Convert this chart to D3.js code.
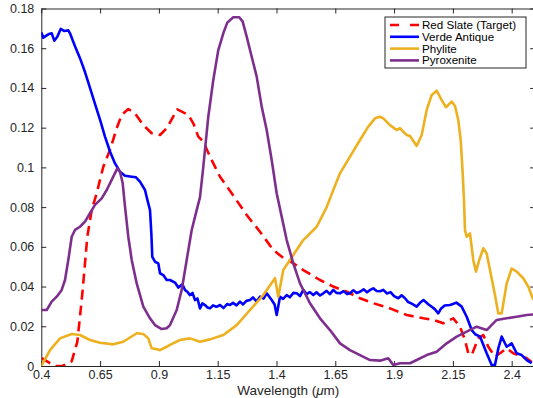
<!DOCTYPE html>
<html>
<head>
<meta charset="utf-8">
<script src="https://cdn.jsdelivr.net/npm/d3@7"></script>
<style>
  body { margin: 0; background: #fff; }
  svg { display: block; font-family: "Liberation Sans", Arial, sans-serif; }
</style>
</head>
<body>
<div id="chart"></div>
<script>
// wavelength (um) / reflectance pairs
var redX = [0.4017,0.437,0.46,0.49,0.5293,0.5531,0.5645,0.576,0.5858,0.5956,0.6143,0.6355,0.6636,0.6921,0.7206,0.7418,0.7699,0.7984,0.8337,0.8694,0.9047,0.9332,0.9685,0.9782,1.025,1.0463,1.0675,1.0888,1.1173,1.1598,1.2095,1.2733,1.3298,1.3864,1.4361,1.4502,1.5139,1.585,1.6415,1.6985,1.755,1.8116,1.8826,1.9536,2.0242,2.0667,2.1092,2.1378,2.1517,2.1802,2.2014,2.2155,2.2299,2.258,2.2793,2.3005,2.329,2.3502,2.3787,2.4068,2.4638,2.4918];
var redY = [0.004,0.0014,0.0,0.0,0.0024,0.0122,0.0248,0.0383,0.0517,0.0651,0.0785,0.087,0.1003,0.1088,0.1197,0.1264,0.1294,0.1272,0.1213,0.1172,0.1163,0.1197,0.1272,0.1292,0.1264,0.1222,0.1155,0.113,0.1054,0.0953,0.087,0.076,0.0676,0.0584,0.0537,0.0534,0.0483,0.0433,0.04,0.0374,0.0341,0.0316,0.029,0.0257,0.024,0.0232,0.0215,0.0232,0.024,0.0198,0.0131,0.0064,0.0055,0.0139,0.0156,0.0097,0.0047,0.0064,0.0089,0.0064,0.0039,0.0014];

var blueX = [0.4,0.4085,0.4298,0.4442,0.4553,0.468,0.4825,0.4965,0.5148,0.522,0.5433,0.5645,0.5858,0.607,0.6283,0.6496,0.6708,0.6921,0.7134,0.7346,0.7559,0.7844,0.8026,0.8196,0.8409,0.8524,0.8622,0.8679,0.8719,0.8834,0.8974,0.9047,0.9187,0.9332,0.9472,0.9685,0.9825,1.0,1.011,1.022,1.0322,1.043,1.0535,1.064,1.0748,1.085,1.096,1.105,1.1173,1.13,1.145,1.1598,1.175,1.19,1.2023,1.215,1.23,1.2448,1.258,1.272,1.2873,1.30,1.315,1.3298,1.345,1.3583,1.3796,1.392,1.4008,1.415,1.428,1.4434,1.457,1.472,1.4859,1.50,1.5139,1.528,1.542,1.5565,1.57,1.585,1.599,1.613,1.627,1.6415,1.655,1.67,1.685,1.70,1.7125,1.727,1.741,1.755,1.77,1.785,1.798,1.8116,1.826,1.84,1.8541,1.87,1.885,1.90,1.9179,1.932,1.9464,1.96,1.975,1.9961,2.01,2.025,2.0454,2.06,2.074,2.0879,2.10,2.115,2.1378,2.15,2.165,2.1874,2.2087,2.2299,2.245,2.2653,2.2937,2.315,2.329,2.3435,2.3575,2.3787,2.4,2.4212,2.4425,2.4638,2.485];
var blueY = [0.168,0.1653,0.167,0.1675,0.1638,0.1658,0.1697,0.1687,0.169,0.1675,0.161,0.155,0.148,0.14,0.132,0.124,0.1155,0.108,0.102,0.0978,0.0958,0.0953,0.095,0.0928,0.0886,0.083,0.0785,0.0668,0.055,0.0525,0.0517,0.0467,0.0458,0.0433,0.0433,0.042,0.0395,0.0412,0.0383,0.0372,0.0357,0.0368,0.0332,0.034,0.029,0.0315,0.0307,0.0296,0.029,0.0305,0.0298,0.0307,0.0292,0.0312,0.0307,0.0318,0.0305,0.0324,0.031,0.0328,0.0332,0.0345,0.0325,0.0349,0.034,0.0366,0.0332,0.031,0.0257,0.0349,0.0338,0.0357,0.0346,0.0368,0.0366,0.0352,0.0383,0.0362,0.0372,0.0357,0.0371,0.0355,0.0366,0.0378,0.0362,0.0383,0.0368,0.0366,0.0377,0.0362,0.0366,0.0381,0.0368,0.0374,0.0386,0.0371,0.0383,0.0391,0.0378,0.0376,0.0383,0.0365,0.0372,0.0352,0.0341,0.0356,0.0341,0.0322,0.0314,0.0299,0.0318,0.0332,0.0311,0.0298,0.0285,0.0265,0.029,0.0305,0.0307,0.0312,0.0319,0.0299,0.0248,0.0181,0.016,0.0148,0.0064,0.0005,0.0005,0.009,0.0148,0.0097,0.0114,0.0064,0.0055,0.003,0.0014];

var orangeX = [0.4,0.437,0.4795,0.5293,0.5645,0.607,0.6496,0.7061,0.7486,0.8056,0.8337,0.8549,0.8694,0.8906,0.9047,0.9332,0.9472,0.9897,1.0322,1.0748,1.1173,1.1738,1.2308,1.2873,1.3439,1.3936,1.4077,1.4289,1.4714,1.5139,1.5709,1.6134,1.6415,1.67,1.7125,1.755,1.7903,1.8188,1.8401,1.8541,1.8826,1.911,1.9251,1.9391,1.9536,1.9676,1.9961,2.0174,2.0386,2.0599,2.0811,2.1024,2.1207,2.1449,2.1589,2.1729,2.1832,2.1917,2.1972,2.2014,2.2087,2.2227,2.2367,2.2482,2.2623,2.2793,2.2937,2.3077,2.329,2.343,2.3575,2.3787,2.4,2.4212,2.4493,2.4706,2.4893,2.5];
var orangeY = [0.0,0.008,0.0139,0.0161,0.0156,0.0131,0.0117,0.0109,0.0122,0.0165,0.0161,0.0139,0.0089,0.0084,0.008,0.0097,0.0106,0.0131,0.0139,0.0122,0.0134,0.0156,0.0206,0.0282,0.0357,0.0442,0.0349,0.0483,0.0559,0.0634,0.0701,0.08,0.0886,0.097,0.1054,0.1138,0.1205,0.1247,0.1255,0.1247,0.1213,0.1188,0.1197,0.118,0.1163,0.1158,0.1108,0.1163,0.1289,0.1365,0.1386,0.1339,0.1303,0.1331,0.1309,0.1239,0.1138,0.097,0.0836,0.0685,0.0651,0.0668,0.0534,0.0475,0.0534,0.0593,0.0567,0.0483,0.0357,0.0265,0.0265,0.0416,0.0491,0.0475,0.0442,0.04,0.0341,0.033];

var purpleX = [0.4,0.423,0.4442,0.4655,0.4867,0.5008,0.5148,0.5293,0.5433,0.5645,0.5858,0.607,0.6283,0.6568,0.6781,0.6993,0.7231,0.7346,0.7461,0.7559,0.7699,0.7844,0.8056,0.8337,0.8622,0.8834,0.9119,0.9332,0.9472,0.9757,0.997,1.0182,1.0395,1.0607,1.0748,1.0888,1.11,1.1313,1.1526,1.1738,1.1908,1.2163,1.2418,1.2563,1.2733,1.2946,1.3158,1.3371,1.3583,1.3796,1.4008,1.4221,1.4434,1.4714,1.5,1.5424,1.585,1.6275,1.67,1.7125,1.755,1.7976,1.8401,1.8753,1.8966,1.9251,1.9676,1.9961,2.0386,2.0811,2.1237,2.1662,2.2087,2.2512,2.2937,2.3362,2.3787,2.4212,2.4638,2.5];
var purpleY = [0.0282,0.0282,0.0324,0.0349,0.0383,0.0433,0.0534,0.0651,0.0685,0.0701,0.0727,0.0769,0.0811,0.0844,0.0886,0.0937,0.0995,0.0978,0.092,0.0802,0.0651,0.0534,0.0416,0.0299,0.024,0.0206,0.0186,0.019,0.0206,0.0282,0.0383,0.0534,0.0685,0.0785,0.085,0.1003,0.1255,0.144,0.1591,0.1675,0.1729,0.1756,0.1756,0.1734,0.1658,0.1557,0.1457,0.1306,0.1188,0.1037,0.087,0.0752,0.0634,0.0517,0.0416,0.0316,0.024,0.0181,0.0114,0.008,0.0055,0.003,0.0027,0.0039,0.0005,0.0014,0.0014,0.003,0.0055,0.0072,0.0114,0.0148,0.0173,0.0198,0.0181,0.0232,0.024,0.0248,0.0257,0.026];

var seriesNames = ["Red Slate (Target)", "Verde Antique", "Phylite", "Pyroxenite"];
var seriesColors = ["#ff0000", "#0000ff", "#edb120", "#7e2f8e"];
var xTicks = [0.4, 0.65, 0.9, 1.15, 1.4, 1.65, 1.9, 2.15, 2.4];
var yTicks = [0, 0.02, 0.04, 0.06, 0.08, 0.1, 0.12, 0.14, 0.16, 0.18];

var series = [
  {name: seriesNames[0], color: seriesColors[0], dash: "10,6", xs: redX, ys: redY},
  {name: seriesNames[1], color: seriesColors[1], dash: null, xs: blueX, ys: blueY},
  {name: seriesNames[2], color: seriesColors[2], dash: null, xs: orangeX, ys: orangeY},
  {name: seriesNames[3], color: seriesColors[3], dash: null, xs: purpleX, ys: purpleY}
];

var width = 533, height = 398;
var margin = {left: 41.3, right: -2.2, top: 8.5, bottom: 32};  // right axis sits just off the window

var svg = d3.select("#chart").append("svg")
    .attr("width", width)
    .attr("height", height);

var x = d3.scaleLinear().domain([0.4, 2.5]).range([margin.left, width - margin.right]);
var y = d3.scaleLinear().domain([0, 0.18]).range([height - margin.bottom, margin.top]);

svg.append("defs").append("clipPath").attr("id", "plotclip")
  .append("rect")
    .attr("x", x(0.4)).attr("y", y(0.18) - 2)
    .attr("width", x(2.5) - x(0.4)).attr("height", y(0) - y(0.18) + 2);

var fmt = function(d) { return String(+d.toFixed(2)); };
var axisColor = "#262626";

// bottom / left axes with labels, ticks pointing inward
var gx = svg.append("g").attr("transform", "translate(0," + y(0) + ")")
    .call(d3.axisBottom(x).tickValues(xTicks).tickFormat(fmt).tickSizeInner(-5).tickSizeOuter(0).tickPadding(4));
var gy = svg.append("g").attr("transform", "translate(" + x(0.4) + ",0)")
    .call(d3.axisLeft(y).tickValues(yTicks).tickFormat(fmt).tickSizeInner(-5).tickSizeOuter(0).tickPadding(7));
// top / right mirror axes, no labels
var gt = svg.append("g").attr("transform", "translate(0," + y(0.18) + ")")
    .call(d3.axisTop(x).tickValues(xTicks).tickFormat("").tickSizeInner(-5).tickSizeOuter(0));
var gr = svg.append("g").attr("transform", "translate(" + x(2.5) + ",0)")
    .call(d3.axisRight(y).tickValues(yTicks).tickFormat("").tickSizeInner(-5).tickSizeOuter(0));

[gx, gy, gt, gr].forEach(function(g) {
  g.selectAll(".domain").attr("stroke", axisColor).attr("stroke-width", 1);
  g.selectAll(".tick line").attr("stroke", axisColor);
  g.selectAll(".tick text").attr("fill", axisColor).style("font-size", "12.5px").style("font-family", "'Liberation Sans', Arial, sans-serif");
});

svg.append("text")
    .attr("x", (x(0.4) + x(2.5)) / 2)
    .attr("y", 395)
    .attr("text-anchor", "middle")
    .attr("fill", axisColor)
    .style("font-size", "13.5px")
    .html('Wavelength (<tspan font-style="italic">μ</tspan>m)');

var line = d3.line()
    .x(function(d) { return x(d[0]); })
    .y(function(d) { return y(d[1]); });

var plot = svg.append("g").attr("clip-path", "url(#plotclip)");
series.forEach(function(s) {
  var pts = s.xs.map(function(v, i) { return [v, s.ys[i]]; });
  plot.append("path")
      .datum(pts)
      .attr("d", line)
      .attr("fill", "none")
      .attr("stroke", s.color)
      .attr("stroke-width", 2.6)
      .attr("stroke-linejoin", "round")
      .attr("stroke-dasharray", s.dash);
});

// legend
var lg = svg.append("g").attr("transform", "translate(385,17)");
lg.append("rect")
    .attr("width", 141).attr("height", 51)
    .attr("fill", "#fff").attr("stroke", axisColor).attr("stroke-width", 1);
series.forEach(function(s, i) {
  var ly = 8 + i * 11.8;
  lg.append("line")
      .attr("x1", 5).attr("x2", 34).attr("y1", ly).attr("y2", ly)
      .attr("stroke", s.color).attr("stroke-width", 2.6)
      .attr("stroke-dasharray", s.dash ? "9,11" : null);
  lg.append("text")
      .attr("x", 37).attr("y", ly + 4)
      .attr("fill", "#000")
      .style("font-size", "11.6px")
      .text(s.name);
});
</script>
</body>
</html>
